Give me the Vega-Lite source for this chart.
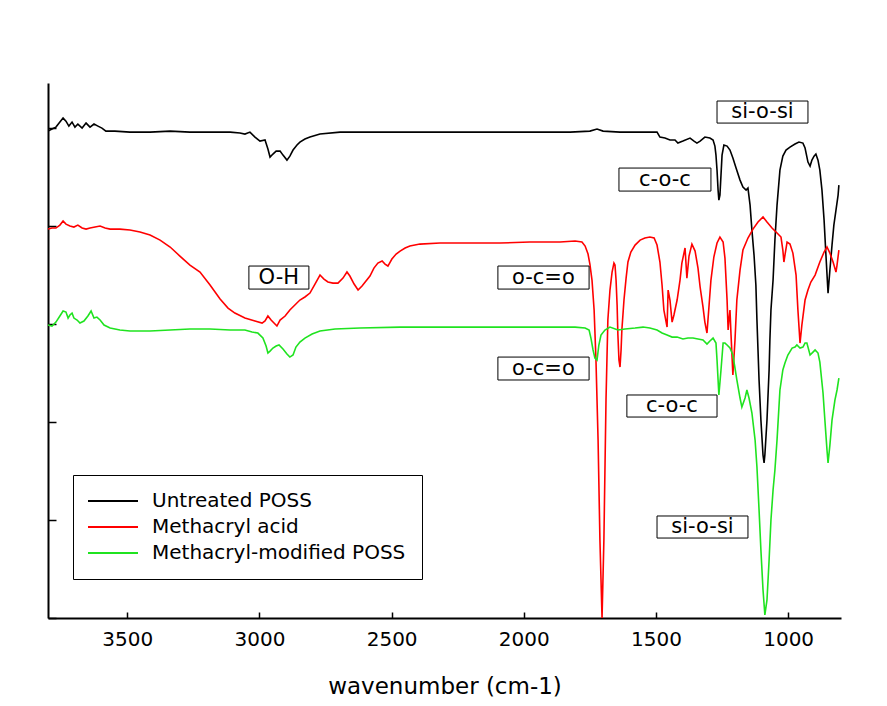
{
  "$schema": "https://vega.github.io/schema/vega-lite/v6.json",
  "width": 793,
  "height": 535,
  "autosize": {"type": "none"},
  "padding": {"left": 48, "top": 83, "right": 46, "bottom": 88},
  "background": "white",
  "config": {
    "view": {"stroke": null},
    "font": "DejaVu Sans",
    "axis": {"grid": false, "domainColor": "black", "domainWidth": 2, "tickColor": "black", "tickWidth": 1.5, "labelColor": "black", "titleColor": "black"}
  },
  "datasets": {
    "notes": [
      {"label": "si-o-si", "x1": 1269, "x2": 925, "y1": 52.76, "y2": 50.51, "xc": 1097, "yc": 51.63},
      {"label": "c-o-c", "x1": 1640, "x2": 1292, "y1": 45.92, "y2": 43.57, "xc": 1466, "yc": 44.75},
      {"label": "O-H", "x1": 3040, "x2": 2813, "y1": 35.92, "y2": 33.57, "xc": 2927, "yc": 34.75},
      {"label": "o-c=o", "x1": 2098, "x2": 1753, "y1": 35.92, "y2": 33.57, "xc": 1926, "yc": 34.75},
      {"label": "o-c=o", "x1": 2098, "x2": 1753, "y1": 26.63, "y2": 24.29, "xc": 1926, "yc": 25.46},
      {"label": "c-o-c", "x1": 1610, "x2": 1269, "y1": 22.76, "y2": 20.51, "xc": 1440, "yc": 21.64},
      {"label": "si-o-si", "x1": 1496, "x2": 1152, "y1": 10.41, "y2": 8.16, "xc": 1324, "yc": 9.29}
    ],
    "curves": [
      {"s":"Untreated POSS","x":3800,"y":49.69},{"s":"Untreated POSS","x":3785,"y":49.90},{"s":"Untreated POSS","x":3770,"y":50.10},{"s":"Untreated POSS","x":3755,"y":50.61},{"s":"Untreated POSS","x":3743,"y":51.02},{"s":"Untreated POSS","x":3732,"y":50.71},{"s":"Untreated POSS","x":3721,"y":50.20},{"s":"Untreated POSS","x":3709,"y":50.61},{"s":"Untreated POSS","x":3698,"y":50.10},{"s":"Untreated POSS","x":3687,"y":50.41},{"s":"Untreated POSS","x":3671,"y":50.00},{"s":"Untreated POSS","x":3656,"y":50.51},{"s":"Untreated POSS","x":3641,"y":50.10},{"s":"Untreated POSS","x":3626,"y":50.41},{"s":"Untreated POSS","x":3611,"y":50.20},{"s":"Untreated POSS","x":3596,"y":50.00},{"s":"Untreated POSS","x":3581,"y":49.69},{"s":"Untreated POSS","x":3547,"y":49.69},{"s":"Untreated POSS","x":3490,"y":49.59},{"s":"Untreated POSS","x":3414,"y":49.59},{"s":"Untreated POSS","x":3338,"y":49.69},{"s":"Untreated POSS","x":3263,"y":49.59},{"s":"Untreated POSS","x":3187,"y":49.59},{"s":"Untreated POSS","x":3111,"y":49.59},{"s":"Untreated POSS","x":3074,"y":49.49},{"s":"Untreated POSS","x":3055,"y":49.39},{"s":"Untreated POSS","x":3036,"y":49.59},{"s":"Untreated POSS","x":3017,"y":49.08},{"s":"Untreated POSS","x":2998,"y":48.67},{"s":"Untreated POSS","x":2979,"y":48.78},{"s":"Untreated POSS","x":2968,"y":47.86},{"s":"Untreated POSS","x":2960,"y":47.04},{"s":"Untreated POSS","x":2949,"y":47.35},{"s":"Untreated POSS","x":2937,"y":47.65},{"s":"Untreated POSS","x":2922,"y":47.65},{"s":"Untreated POSS","x":2911,"y":47.24},{"s":"Untreated POSS","x":2896,"y":46.73},{"s":"Untreated POSS","x":2885,"y":47.14},{"s":"Untreated POSS","x":2873,"y":47.76},{"s":"Untreated POSS","x":2858,"y":48.27},{"s":"Untreated POSS","x":2847,"y":48.57},{"s":"Untreated POSS","x":2828,"y":48.88},{"s":"Untreated POSS","x":2809,"y":49.08},{"s":"Untreated POSS","x":2771,"y":49.39},{"s":"Untreated POSS","x":2695,"y":49.59},{"s":"Untreated POSS","x":2544,"y":49.59},{"s":"Untreated POSS","x":2279,"y":49.59},{"s":"Untreated POSS","x":2014,"y":49.59},{"s":"Untreated POSS","x":1825,"y":49.59},{"s":"Untreated POSS","x":1750,"y":49.69},{"s":"Untreated POSS","x":1723,"y":49.90},{"s":"Untreated POSS","x":1700,"y":49.69},{"s":"Untreated POSS","x":1636,"y":49.59},{"s":"Untreated POSS","x":1560,"y":49.59},{"s":"Untreated POSS","x":1496,"y":49.59},{"s":"Untreated POSS","x":1485,"y":49.08},{"s":"Untreated POSS","x":1466,"y":48.98},{"s":"Untreated POSS","x":1447,"y":48.78},{"s":"Untreated POSS","x":1428,"y":48.78},{"s":"Untreated POSS","x":1417,"y":48.47},{"s":"Untreated POSS","x":1398,"y":48.67},{"s":"Untreated POSS","x":1371,"y":48.98},{"s":"Untreated POSS","x":1356,"y":48.67},{"s":"Untreated POSS","x":1345,"y":48.47},{"s":"Untreated POSS","x":1333,"y":48.67},{"s":"Untreated POSS","x":1315,"y":49.08},{"s":"Untreated POSS","x":1296,"y":48.98},{"s":"Untreated POSS","x":1284,"y":48.78},{"s":"Untreated POSS","x":1277,"y":48.16},{"s":"Untreated POSS","x":1273,"y":47.24},{"s":"Untreated POSS","x":1269,"y":45.71},{"s":"Untreated POSS","x":1265,"y":43.67},{"s":"Untreated POSS","x":1262,"y":42.65},{"s":"Untreated POSS","x":1258,"y":43.16},{"s":"Untreated POSS","x":1254,"y":45.20},{"s":"Untreated POSS","x":1250,"y":47.24},{"s":"Untreated POSS","x":1243,"y":48.27},{"s":"Untreated POSS","x":1231,"y":48.16},{"s":"Untreated POSS","x":1220,"y":47.76},{"s":"Untreated POSS","x":1209,"y":46.94},{"s":"Untreated POSS","x":1197,"y":45.92},{"s":"Untreated POSS","x":1182,"y":44.69},{"s":"Untreated POSS","x":1171,"y":43.98},{"s":"Untreated POSS","x":1159,"y":43.67},{"s":"Untreated POSS","x":1152,"y":43.88},{"s":"Untreated POSS","x":1144,"y":42.14},{"s":"Untreated POSS","x":1137,"y":39.59},{"s":"Untreated POSS","x":1129,"y":37.04},{"s":"Untreated POSS","x":1122,"y":33.98},{"s":"Untreated POSS","x":1118,"y":30.41},{"s":"Untreated POSS","x":1114,"y":27.35},{"s":"Untreated POSS","x":1110,"y":24.29},{"s":"Untreated POSS","x":1103,"y":20.20},{"s":"Untreated POSS","x":1095,"y":16.63},{"s":"Untreated POSS","x":1091,"y":15.82},{"s":"Untreated POSS","x":1088,"y":16.63},{"s":"Untreated POSS","x":1080,"y":20.20},{"s":"Untreated POSS","x":1072,"y":25.31},{"s":"Untreated POSS","x":1069,"y":28.37},{"s":"Untreated POSS","x":1065,"y":31.43},{"s":"Untreated POSS","x":1057,"y":34.49},{"s":"Untreated POSS","x":1050,"y":38.57},{"s":"Untreated POSS","x":1042,"y":42.14},{"s":"Untreated POSS","x":1031,"y":45.71},{"s":"Untreated POSS","x":1020,"y":47.14},{"s":"Untreated POSS","x":1008,"y":47.76},{"s":"Untreated POSS","x":993,"y":48.06},{"s":"Untreated POSS","x":974,"y":48.37},{"s":"Untreated POSS","x":959,"y":48.57},{"s":"Untreated POSS","x":944,"y":48.47},{"s":"Untreated POSS","x":936,"y":47.96},{"s":"Untreated POSS","x":925,"y":46.53},{"s":"Untreated POSS","x":917,"y":46.12},{"s":"Untreated POSS","x":910,"y":46.73},{"s":"Untreated POSS","x":902,"y":47.14},{"s":"Untreated POSS","x":895,"y":47.35},{"s":"Untreated POSS","x":887,"y":46.73},{"s":"Untreated POSS","x":880,"y":45.71},{"s":"Untreated POSS","x":872,"y":43.67},{"s":"Untreated POSS","x":864,"y":40.61},{"s":"Untreated POSS","x":857,"y":37.04},{"s":"Untreated POSS","x":849,"y":33.16},{"s":"Untreated POSS","x":842,"y":35.51},{"s":"Untreated POSS","x":834,"y":38.06},{"s":"Untreated POSS","x":827,"y":40.10},{"s":"Untreated POSS","x":819,"y":41.63},{"s":"Untreated POSS","x":811,"y":43.16},{"s":"Untreated POSS","x":808,"y":44.18},
      {"s":"Methacryl acid","x":3800,"y":39.69},{"s":"Methacryl acid","x":3785,"y":39.80},{"s":"Methacryl acid","x":3770,"y":39.80},{"s":"Methacryl acid","x":3755,"y":40.10},{"s":"Methacryl acid","x":3743,"y":40.51},{"s":"Methacryl acid","x":3732,"y":40.20},{"s":"Methacryl acid","x":3717,"y":40.00},{"s":"Methacryl acid","x":3702,"y":39.90},{"s":"Methacryl acid","x":3687,"y":40.10},{"s":"Methacryl acid","x":3671,"y":39.80},{"s":"Methacryl acid","x":3656,"y":39.69},{"s":"Methacryl acid","x":3641,"y":39.80},{"s":"Methacryl acid","x":3622,"y":39.90},{"s":"Methacryl acid","x":3603,"y":40.00},{"s":"Methacryl acid","x":3584,"y":39.80},{"s":"Methacryl acid","x":3565,"y":39.69},{"s":"Methacryl acid","x":3528,"y":39.69},{"s":"Methacryl acid","x":3490,"y":39.59},{"s":"Methacryl acid","x":3452,"y":39.39},{"s":"Methacryl acid","x":3414,"y":39.08},{"s":"Methacryl acid","x":3376,"y":38.57},{"s":"Methacryl acid","x":3338,"y":37.86},{"s":"Methacryl acid","x":3301,"y":36.94},{"s":"Methacryl acid","x":3263,"y":36.02},{"s":"Methacryl acid","x":3225,"y":35.31},{"s":"Methacryl acid","x":3187,"y":33.98},{"s":"Methacryl acid","x":3149,"y":32.55},{"s":"Methacryl acid","x":3119,"y":31.63},{"s":"Methacryl acid","x":3093,"y":31.12},{"s":"Methacryl acid","x":3055,"y":30.61},{"s":"Methacryl acid","x":3017,"y":30.31},{"s":"Methacryl acid","x":2990,"y":30.10},{"s":"Methacryl acid","x":2979,"y":30.31},{"s":"Methacryl acid","x":2968,"y":30.82},{"s":"Methacryl acid","x":2956,"y":30.41},{"s":"Methacryl acid","x":2945,"y":30.10},{"s":"Methacryl acid","x":2934,"y":29.80},{"s":"Methacryl acid","x":2922,"y":30.41},{"s":"Methacryl acid","x":2903,"y":30.82},{"s":"Methacryl acid","x":2885,"y":31.43},{"s":"Methacryl acid","x":2866,"y":31.94},{"s":"Methacryl acid","x":2847,"y":32.45},{"s":"Methacryl acid","x":2828,"y":32.76},{"s":"Methacryl acid","x":2809,"y":33.16},{"s":"Methacryl acid","x":2790,"y":34.08},{"s":"Methacryl acid","x":2771,"y":35.00},{"s":"Methacryl acid","x":2756,"y":34.59},{"s":"Methacryl acid","x":2741,"y":34.29},{"s":"Methacryl acid","x":2722,"y":34.18},{"s":"Methacryl acid","x":2703,"y":34.18},{"s":"Methacryl acid","x":2684,"y":34.69},{"s":"Methacryl acid","x":2669,"y":35.31},{"s":"Methacryl acid","x":2658,"y":34.90},{"s":"Methacryl acid","x":2642,"y":34.08},{"s":"Methacryl acid","x":2627,"y":33.47},{"s":"Methacryl acid","x":2612,"y":33.88},{"s":"Methacryl acid","x":2597,"y":34.39},{"s":"Methacryl acid","x":2582,"y":34.90},{"s":"Methacryl acid","x":2567,"y":35.71},{"s":"Methacryl acid","x":2552,"y":36.22},{"s":"Methacryl acid","x":2536,"y":36.43},{"s":"Methacryl acid","x":2525,"y":36.12},{"s":"Methacryl acid","x":2514,"y":35.92},{"s":"Methacryl acid","x":2499,"y":36.63},{"s":"Methacryl acid","x":2483,"y":37.14},{"s":"Methacryl acid","x":2468,"y":37.45},{"s":"Methacryl acid","x":2449,"y":37.76},{"s":"Methacryl acid","x":2431,"y":37.96},{"s":"Methacryl acid","x":2393,"y":38.16},{"s":"Methacryl acid","x":2317,"y":38.27},{"s":"Methacryl acid","x":2204,"y":38.27},{"s":"Methacryl acid","x":2090,"y":38.27},{"s":"Methacryl acid","x":1977,"y":38.37},{"s":"Methacryl acid","x":1863,"y":38.37},{"s":"Methacryl acid","x":1806,"y":38.47},{"s":"Methacryl acid","x":1780,"y":38.37},{"s":"Methacryl acid","x":1768,"y":37.96},{"s":"Methacryl acid","x":1757,"y":37.14},{"s":"Methacryl acid","x":1750,"y":36.12},{"s":"Methacryl acid","x":1742,"y":34.49},{"s":"Methacryl acid","x":1734,"y":31.43},{"s":"Methacryl acid","x":1727,"y":26.33},{"s":"Methacryl acid","x":1719,"y":18.16},{"s":"Methacryl acid","x":1712,"y":7.96},{"s":"Methacryl acid","x":1704,"y":0},{"s":"Methacryl acid","x":1697,"y":7.96},{"s":"Methacryl acid","x":1689,"y":22.24},{"s":"Methacryl acid","x":1682,"y":30.41},{"s":"Methacryl acid","x":1674,"y":33.47},{"s":"Methacryl acid","x":1666,"y":35.31},{"s":"Methacryl acid","x":1659,"y":36.22},{"s":"Methacryl acid","x":1655,"y":36.02},{"s":"Methacryl acid","x":1651,"y":34.49},{"s":"Methacryl acid","x":1647,"y":31.94},{"s":"Methacryl acid","x":1644,"y":28.88},{"s":"Methacryl acid","x":1640,"y":26.33},{"s":"Methacryl acid","x":1636,"y":25.61},{"s":"Methacryl acid","x":1632,"y":27.35},{"s":"Methacryl acid","x":1629,"y":29.39},{"s":"Methacryl acid","x":1621,"y":32.45},{"s":"Methacryl acid","x":1613,"y":34.69},{"s":"Methacryl acid","x":1606,"y":36.33},{"s":"Methacryl acid","x":1595,"y":37.35},{"s":"Methacryl acid","x":1579,"y":38.06},{"s":"Methacryl acid","x":1560,"y":38.57},{"s":"Methacryl acid","x":1542,"y":38.78},{"s":"Methacryl acid","x":1523,"y":38.88},{"s":"Methacryl acid","x":1507,"y":38.78},{"s":"Methacryl acid","x":1496,"y":38.06},{"s":"Methacryl acid","x":1485,"y":36.33},{"s":"Methacryl acid","x":1477,"y":33.98},{"s":"Methacryl acid","x":1470,"y":31.43},{"s":"Methacryl acid","x":1458,"y":29.69},{"s":"Methacryl acid","x":1454,"y":33.47},{"s":"Methacryl acid","x":1447,"y":32.45},{"s":"Methacryl acid","x":1439,"y":30.20},{"s":"Methacryl acid","x":1432,"y":30.92},{"s":"Methacryl acid","x":1420,"y":32.45},{"s":"Methacryl acid","x":1409,"y":34.49},{"s":"Methacryl acid","x":1402,"y":36.22},{"s":"Methacryl acid","x":1390,"y":37.76},{"s":"Methacryl acid","x":1383,"y":34.69},{"s":"Methacryl acid","x":1375,"y":36.94},{"s":"Methacryl acid","x":1364,"y":38.16},{"s":"Methacryl acid","x":1352,"y":37.45},{"s":"Methacryl acid","x":1341,"y":35.71},{"s":"Methacryl acid","x":1333,"y":33.78},{"s":"Methacryl acid","x":1322,"y":31.73},{"s":"Methacryl acid","x":1315,"y":30.20},{"s":"Methacryl acid","x":1307,"y":29.08},{"s":"Methacryl acid","x":1299,"y":31.94},{"s":"Methacryl acid","x":1292,"y":34.49},{"s":"Methacryl acid","x":1281,"y":36.84},{"s":"Methacryl acid","x":1269,"y":38.27},{"s":"Methacryl acid","x":1258,"y":38.88},{"s":"Methacryl acid","x":1246,"y":38.37},{"s":"Methacryl acid","x":1239,"y":36.73},{"s":"Methacryl acid","x":1231,"y":32.45},{"s":"Methacryl acid","x":1227,"y":29.39},{"s":"Methacryl acid","x":1224,"y":30.41},{"s":"Methacryl acid","x":1220,"y":31.43},{"s":"Methacryl acid","x":1216,"y":28.88},{"s":"Methacryl acid","x":1209,"y":24.80},{"s":"Methacryl acid","x":1201,"y":28.37},{"s":"Methacryl acid","x":1194,"y":32.45},{"s":"Methacryl acid","x":1182,"y":35.51},{"s":"Methacryl acid","x":1171,"y":37.55},{"s":"Methacryl acid","x":1152,"y":38.78},{"s":"Methacryl acid","x":1133,"y":39.69},{"s":"Methacryl acid","x":1114,"y":40.41},{"s":"Methacryl acid","x":1095,"y":40.92},{"s":"Methacryl acid","x":1080,"y":40.41},{"s":"Methacryl acid","x":1061,"y":39.80},{"s":"Methacryl acid","x":1042,"y":39.29},{"s":"Methacryl acid","x":1027,"y":38.88},{"s":"Methacryl acid","x":1020,"y":37.55},{"s":"Methacryl acid","x":1016,"y":36.33},{"s":"Methacryl acid","x":1012,"y":37.04},{"s":"Methacryl acid","x":1004,"y":38.37},{"s":"Methacryl acid","x":993,"y":38.16},{"s":"Methacryl acid","x":982,"y":37.24},{"s":"Methacryl acid","x":970,"y":35.00},{"s":"Methacryl acid","x":963,"y":31.43},{"s":"Methacryl acid","x":955,"y":28.06},{"s":"Methacryl acid","x":948,"y":29.90},{"s":"Methacryl acid","x":936,"y":32.45},{"s":"Methacryl acid","x":925,"y":33.47},{"s":"Methacryl acid","x":914,"y":34.29},{"s":"Methacryl acid","x":898,"y":35.00},{"s":"Methacryl acid","x":880,"y":36.33},{"s":"Methacryl acid","x":864,"y":37.35},{"s":"Methacryl acid","x":853,"y":37.86},{"s":"Methacryl acid","x":842,"y":37.24},{"s":"Methacryl acid","x":830,"y":36.33},{"s":"Methacryl acid","x":819,"y":35.31},{"s":"Methacryl acid","x":815,"y":36.02},{"s":"Methacryl acid","x":808,"y":37.55},
      {"s":"Methacryl-modified POSS","x":3800,"y":29.90},{"s":"Methacryl-modified POSS","x":3785,"y":29.80},{"s":"Methacryl-modified POSS","x":3770,"y":30.20},{"s":"Methacryl-modified POSS","x":3755,"y":30.82},{"s":"Methacryl-modified POSS","x":3743,"y":31.33},{"s":"Methacryl-modified POSS","x":3732,"y":31.22},{"s":"Methacryl-modified POSS","x":3724,"y":30.61},{"s":"Methacryl-modified POSS","x":3717,"y":30.92},{"s":"Methacryl-modified POSS","x":3709,"y":31.12},{"s":"Methacryl-modified POSS","x":3702,"y":30.61},{"s":"Methacryl-modified POSS","x":3690,"y":30.41},{"s":"Methacryl-modified POSS","x":3679,"y":30.10},{"s":"Methacryl-modified POSS","x":3664,"y":30.31},{"s":"Methacryl-modified POSS","x":3649,"y":30.82},{"s":"Methacryl-modified POSS","x":3637,"y":31.33},{"s":"Methacryl-modified POSS","x":3626,"y":30.61},{"s":"Methacryl-modified POSS","x":3615,"y":30.71},{"s":"Methacryl-modified POSS","x":3603,"y":30.41},{"s":"Methacryl-modified POSS","x":3588,"y":29.90},{"s":"Methacryl-modified POSS","x":3565,"y":29.59},{"s":"Methacryl-modified POSS","x":3528,"y":29.39},{"s":"Methacryl-modified POSS","x":3490,"y":29.29},{"s":"Methacryl-modified POSS","x":3414,"y":29.29},{"s":"Methacryl-modified POSS","x":3338,"y":29.39},{"s":"Methacryl-modified POSS","x":3263,"y":29.49},{"s":"Methacryl-modified POSS","x":3187,"y":29.49},{"s":"Methacryl-modified POSS","x":3111,"y":29.39},{"s":"Methacryl-modified POSS","x":3055,"y":29.39},{"s":"Methacryl-modified POSS","x":3028,"y":29.18},{"s":"Methacryl-modified POSS","x":3006,"y":29.08},{"s":"Methacryl-modified POSS","x":2987,"y":28.57},{"s":"Methacryl-modified POSS","x":2975,"y":27.76},{"s":"Methacryl-modified POSS","x":2968,"y":27.04},{"s":"Methacryl-modified POSS","x":2960,"y":27.24},{"s":"Methacryl-modified POSS","x":2949,"y":27.55},{"s":"Methacryl-modified POSS","x":2937,"y":27.76},{"s":"Methacryl-modified POSS","x":2926,"y":27.86},{"s":"Methacryl-modified POSS","x":2911,"y":27.45},{"s":"Methacryl-modified POSS","x":2896,"y":26.94},{"s":"Methacryl-modified POSS","x":2885,"y":26.63},{"s":"Methacryl-modified POSS","x":2873,"y":26.84},{"s":"Methacryl-modified POSS","x":2862,"y":27.65},{"s":"Methacryl-modified POSS","x":2847,"y":28.16},{"s":"Methacryl-modified POSS","x":2828,"y":28.57},{"s":"Methacryl-modified POSS","x":2801,"y":28.98},{"s":"Methacryl-modified POSS","x":2771,"y":29.29},{"s":"Methacryl-modified POSS","x":2714,"y":29.49},{"s":"Methacryl-modified POSS","x":2620,"y":29.59},{"s":"Methacryl-modified POSS","x":2468,"y":29.69},{"s":"Methacryl-modified POSS","x":2279,"y":29.69},{"s":"Methacryl-modified POSS","x":2090,"y":29.69},{"s":"Methacryl-modified POSS","x":1901,"y":29.69},{"s":"Methacryl-modified POSS","x":1806,"y":29.69},{"s":"Methacryl-modified POSS","x":1768,"y":29.59},{"s":"Methacryl-modified POSS","x":1753,"y":29.39},{"s":"Methacryl-modified POSS","x":1746,"y":28.57},{"s":"Methacryl-modified POSS","x":1738,"y":27.35},{"s":"Methacryl-modified POSS","x":1731,"y":26.53},{"s":"Methacryl-modified POSS","x":1723,"y":26.33},{"s":"Methacryl-modified POSS","x":1716,"y":27.86},{"s":"Methacryl-modified POSS","x":1708,"y":28.88},{"s":"Methacryl-modified POSS","x":1693,"y":29.39},{"s":"Methacryl-modified POSS","x":1674,"y":29.69},{"s":"Methacryl-modified POSS","x":1644,"y":29.39},{"s":"Methacryl-modified POSS","x":1617,"y":29.49},{"s":"Methacryl-modified POSS","x":1579,"y":29.59},{"s":"Methacryl-modified POSS","x":1549,"y":29.69},{"s":"Methacryl-modified POSS","x":1523,"y":29.59},{"s":"Methacryl-modified POSS","x":1496,"y":29.39},{"s":"Methacryl-modified POSS","x":1477,"y":29.08},{"s":"Methacryl-modified POSS","x":1458,"y":28.88},{"s":"Methacryl-modified POSS","x":1439,"y":28.67},{"s":"Methacryl-modified POSS","x":1420,"y":28.67},{"s":"Methacryl-modified POSS","x":1398,"y":28.47},{"s":"Methacryl-modified POSS","x":1379,"y":28.57},{"s":"Methacryl-modified POSS","x":1360,"y":28.57},{"s":"Methacryl-modified POSS","x":1341,"y":28.47},{"s":"Methacryl-modified POSS","x":1322,"y":28.37},{"s":"Methacryl-modified POSS","x":1307,"y":27.96},{"s":"Methacryl-modified POSS","x":1296,"y":28.27},{"s":"Methacryl-modified POSS","x":1284,"y":28.57},{"s":"Methacryl-modified POSS","x":1273,"y":28.06},{"s":"Methacryl-modified POSS","x":1269,"y":26.33},{"s":"Methacryl-modified POSS","x":1265,"y":24.29},{"s":"Methacryl-modified POSS","x":1262,"y":22.76},{"s":"Methacryl-modified POSS","x":1254,"y":25.31},{"s":"Methacryl-modified POSS","x":1246,"y":28.06},{"s":"Methacryl-modified POSS","x":1239,"y":28.06},{"s":"Methacryl-modified POSS","x":1231,"y":27.86},{"s":"Methacryl-modified POSS","x":1220,"y":27.55},{"s":"Methacryl-modified POSS","x":1209,"y":26.84},{"s":"Methacryl-modified POSS","x":1201,"y":25.51},{"s":"Methacryl-modified POSS","x":1194,"y":24.29},{"s":"Methacryl-modified POSS","x":1182,"y":22.45},{"s":"Methacryl-modified POSS","x":1175,"y":21.53},{"s":"Methacryl-modified POSS","x":1163,"y":22.45},{"s":"Methacryl-modified POSS","x":1156,"y":23.27},{"s":"Methacryl-modified POSS","x":1148,"y":22.45},{"s":"Methacryl-modified POSS","x":1137,"y":20.92},{"s":"Methacryl-modified POSS","x":1125,"y":18.16},{"s":"Methacryl-modified POSS","x":1118,"y":15.41},{"s":"Methacryl-modified POSS","x":1110,"y":11.02},{"s":"Methacryl-modified POSS","x":1103,"y":6.94},{"s":"Methacryl-modified POSS","x":1095,"y":2.86},{"s":"Methacryl-modified POSS","x":1088,"y":0.31},{"s":"Methacryl-modified POSS","x":1080,"y":1.84},{"s":"Methacryl-modified POSS","x":1072,"y":5.92},{"s":"Methacryl-modified POSS","x":1065,"y":10.00},{"s":"Methacryl-modified POSS","x":1057,"y":13.06},{"s":"Methacryl-modified POSS","x":1050,"y":15.10},{"s":"Methacryl-modified POSS","x":1042,"y":18.16},{"s":"Methacryl-modified POSS","x":1031,"y":23.27},{"s":"Methacryl-modified POSS","x":1020,"y":25.31},{"s":"Methacryl-modified POSS","x":1012,"y":26.02},{"s":"Methacryl-modified POSS","x":1001,"y":26.84},{"s":"Methacryl-modified POSS","x":985,"y":27.55},{"s":"Methacryl-modified POSS","x":974,"y":27.65},{"s":"Methacryl-modified POSS","x":967,"y":27.86},{"s":"Methacryl-modified POSS","x":955,"y":27.55},{"s":"Methacryl-modified POSS","x":944,"y":27.65},{"s":"Methacryl-modified POSS","x":936,"y":28.06},{"s":"Methacryl-modified POSS","x":929,"y":28.06},{"s":"Methacryl-modified POSS","x":917,"y":26.84},{"s":"Methacryl-modified POSS","x":906,"y":27.14},{"s":"Methacryl-modified POSS","x":898,"y":27.35},{"s":"Methacryl-modified POSS","x":887,"y":27.04},{"s":"Methacryl-modified POSS","x":880,"y":26.12},{"s":"Methacryl-modified POSS","x":868,"y":22.96},{"s":"Methacryl-modified POSS","x":861,"y":20.20},{"s":"Methacryl-modified POSS","x":853,"y":17.14},{"s":"Methacryl-modified POSS","x":849,"y":15.82},{"s":"Methacryl-modified POSS","x":842,"y":17.65},{"s":"Methacryl-modified POSS","x":834,"y":20.20},{"s":"Methacryl-modified POSS","x":823,"y":22.24},{"s":"Methacryl-modified POSS","x":815,"y":23.27},{"s":"Methacryl-modified POSS","x":808,"y":24.49}
    ]
  },
  "layer": [
    {
      "data": {"name": "curves"},
      "mark": {"type": "line", "strokeWidth": 1.6, "clip": true},
      "encoding": {
        "x": {"field": "x", "type": "quantitative",
          "scale": {"domain": [800, 3800], "reverse": true, "nice": false, "zero": false},
          "axis": {"values": [1000, 1500, 2000, 2500, 3000, 3500], "format": "d", "tickSize": -6, "labelFontSize": 20, "labelFont": "DejaVu Sans", "labelPadding": 17, "title": "wavenumber (cm-1)", "titleFontSize": 23, "titleFont": "DejaVu Sans", "titleFontWeight": "normal", "titlePadding": 26}},
        "y": {"field": "y", "type": "quantitative",
          "scale": {"domain": [0, 54.6], "nice": false, "zero": false},
          "axis": {"values": [0, 10, 20, 30, 40, 50], "labels": false, "title": null, "tickSize": -8}},
        "color": {"field": "s", "type": "nominal",
          "scale": {"domain": ["Untreated POSS", "Methacryl acid", "Methacryl-modified POSS"], "range": ["#000000", "#ff0000", "#1fe31f"]},
          "legend": {"title": null, "orient": "none", "legendX": 25, "legendY": 392, "strokeColor": "black", "padding": 16, "symbolType": "M-11,0H39", "symbolSize": 4, "symbolStrokeWidth": 2, "labelFont": "DejaVu Sans", "labelFontSize": 20, "labelColor": "black", "labelOffset": 43, "labelLimit": 400, "rowPadding": 6}}
      }
    },
    {
      "data": {"name": "notes"},
      "mark": {"type": "rect", "fill": "white", "stroke": "black", "strokeWidth": 1},
      "encoding": {
        "x": {"field": "x1", "type": "quantitative"},
        "x2": {"field": "x2"},
        "y": {"field": "y1", "type": "quantitative"},
        "y2": {"field": "y2"}
      }
    },
    {
      "data": {"name": "notes"},
      "mark": {"type": "text", "font": "DejaVu Sans", "fontSize": 21, "color": "black", "align": "center", "baseline": "middle"},
      "encoding": {
        "x": {"field": "xc", "type": "quantitative"},
        "y": {"field": "yc", "type": "quantitative"},
        "text": {"field": "label"}
      }
    }
  ]
}
